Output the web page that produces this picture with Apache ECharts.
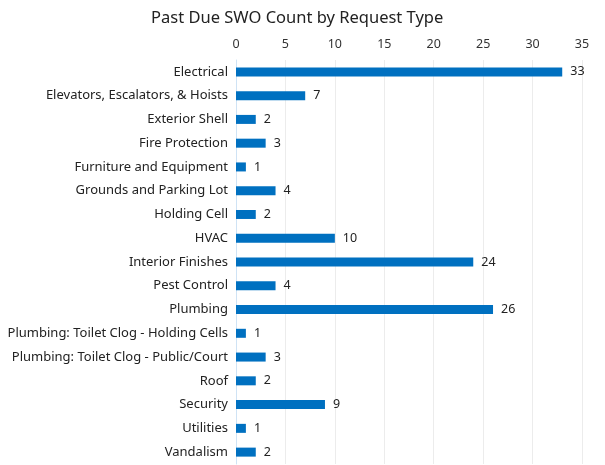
<!DOCTYPE html>
<html>
<head>
    <meta charset="utf-8">
    <title>Past Due SWO Count</title>
    <script src="https://cdn.jsdelivr.net/npm/echarts@6/dist/echarts.min.js"></script>
    <style>
        html, body { margin: 0; padding: 0; background: #fff; }
    </style>
</head>
<body>
    <div id="main" style="width: 605px; height: 465px;"></div>
    <script type="text/javascript">
        var requestTypes = [
            'Electrical', 'Elevators, Escalators, & Hoists', 'Exterior Shell',
            'Fire Protection', 'Furniture and Equipment', 'Grounds and Parking Lot',
            'Holding Cell', 'HVAC', 'Interior Finishes', 'Pest Control', 'Plumbing',
            'Plumbing: Toilet Clog - Holding Cells', 'Plumbing: Toilet Clog - Public/Court',
            'Roof', 'Security', 'Utilities', 'Vandalism'
        ];
        var swoCounts = [33, 7, 2, 3, 1, 4, 2, 10, 24, 4, 26, 1, 3, 2, 9, 1, 2];

        var myChart = echarts.init(document.getElementById('main'));
        var font = '"Noto Sans", sans-serif';

        var option = {
            backgroundColor: '#ffffff',
            animation: false,
            title: {
                text: 'Past Due SWO Count by Request Type',
                left: 146,
                top: 5,
                textStyle: { fontFamily: font, fontSize: 16.5, fontWeight: 'normal', color: '#222' }
            },
            grid: { left: 236, right: 23, top: 60, bottom: 1 },
            xAxis: {
                type: 'value',
                position: 'top',
                min: 0,
                max: 35,
                interval: 5,
                axisLine: { show: false },
                axisTick: { show: false },
                axisLabel: { fontFamily: font, fontSize: 12.5, color: '#333', margin: 9 },
                splitLine: { show: true, lineStyle: { color: '#ececec', width: 1 } }
            },
            yAxis: {
                type: 'category',
                inverse: true,
                data: requestTypes,
                axisLine: { show: true, lineStyle: { color: '#cfe3f5', width: 1 } },
                axisTick: { show: false },
                axisLabel: { fontFamily: font, fontSize: 13, color: '#222', margin: 8 }
            },
            series: [{
                type: 'bar',
                data: swoCounts,
                barWidth: 9,
                itemStyle: { color: '#0070c0' },
                label: {
                    show: true,
                    position: 'right',
                    distance: 8,
                    fontFamily: font,
                    fontSize: 12.5,
                    color: '#222'
                }
            }]
        };

        myChart.setOption(option);
    </script>
</body>
</html>
